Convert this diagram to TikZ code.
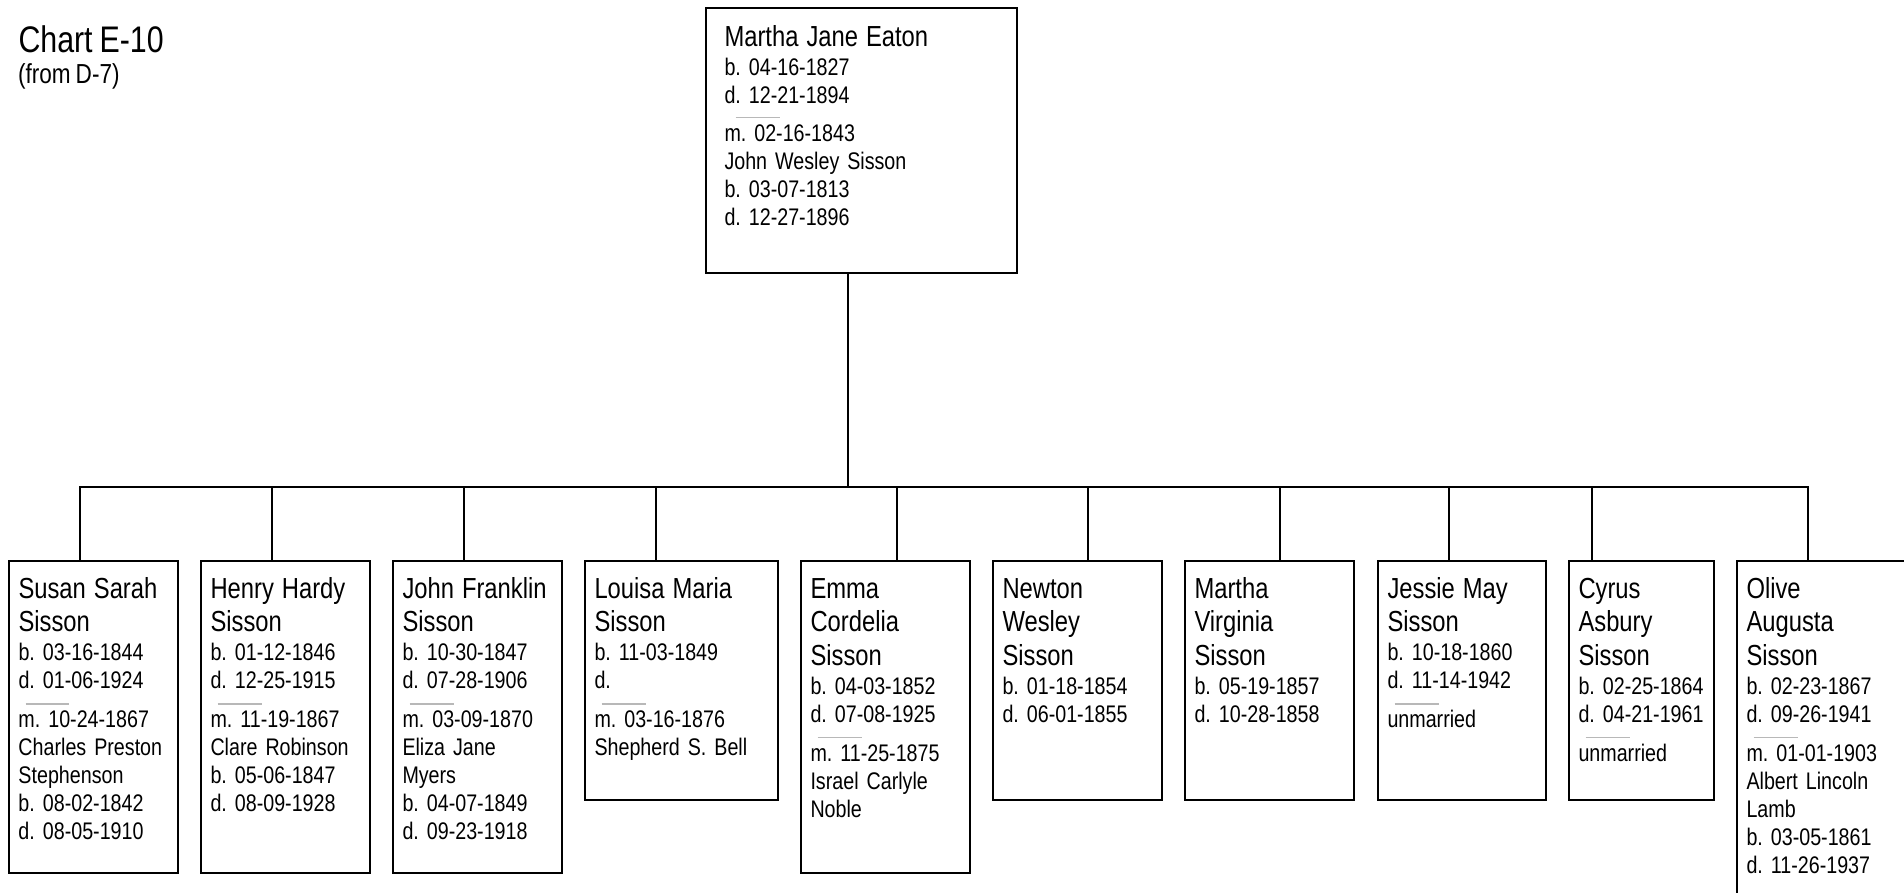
\documentclass[tikz,border=0pt]{standalone}
\usepackage{fontspec}
\setmainfont{Liberation Sans}[FakeStretch=0.82, WordSpace=0.82]
\frenchspacing
\exhyphenpenalty=10000
\hyphenpenalty=10000
\newcommand\namefont{\fontsize{29}{28}\selectfont}
\newcommand\infofont{\fontsize{24}{28}\selectfont}
\newcommand\sepbar[1][7pt]{\leavevmode\rlap{\hspace*{#1}\smash{\textcolor{black!28}{\rule[23pt]{44pt}{1.3pt}}}}}

\begin{document}
\begin{tikzpicture}[x=1pt, y=-1pt, line width=2pt,
		person/.style 2 args={draw, anchor=north west, align=left, inner xsep=9.5pt, inner ysep=0pt,
			text height=37pt, text width=#1, text depth=#2, font=\infofont}]
	\useasboundingbox (0,0) rectangle (1904,892);
	\clip (0,0) rectangle (1904,892);
	\node[anchor=base west, inner sep=0pt, font=\fontsize{37}{40}\selectfont] (chart) at (17.5,52) {Chart E-10};
	\node[anchor=base west, inner sep=0pt, font=\fontsize{27.5}{28}\selectfont] (origin) at (17,83) {(from D-7)};
	\node[person={274pt}{227pt}, inner xsep=18.5pt, text height=38pt] (eaton) at (705,7) {%
		{\namefont Martha Jane Eaton}\\[1pt]
		b. 04-16-1827\\
		d. 12-21-1894\\[10pt]
		\sepbar[11pt]m. 02-16-1843\\
		John Wesley Sisson\\
		b. 03-07-1813\\
		d. 12-27-1896};
	\node[person={150pt}{275pt}] (susan) at (8,560) {%
		{\namefont Susan Sarah\\[5.5pt]Sisson}\\[1pt]
		b. 03-16-1844\\
		d. 01-06-1924\\[11pt]
		\sepbar m. 10-24-1867\\
		Charles Preston\\
		Stephenson\\
		b. 08-02-1842\\
		d. 08-05-1910};
	\node[person={150pt}{275pt}] (henry) at (200,560) {%
		{\namefont Henry Hardy\\[5.5pt]Sisson}\\[1pt]
		b. 01-12-1846\\
		d. 12-25-1915\\[11pt]
		\sepbar m. 11-19-1867\\
		Clare Robinson\\
		b. 05-06-1847\\
		d. 08-09-1928};
	\node[person={150pt}{275pt}] (john) at (392,560) {%
		{\namefont John Franklin\\[5.5pt]Sisson}\\[1pt]
		b. 10-30-1847\\
		d. 07-28-1906\\[11pt]
		\sepbar m. 03-09-1870\\
		Eliza Jane\\
		Myers\\
		b. 04-07-1849\\
		d. 09-23-1918};
	\node[person={174pt}{202pt}] (louisa) at (584,560) {%
		{\namefont Louisa Maria\\[5.5pt]Sisson}\\[1pt]
		b. 11-03-1849\\
		d.\\[11pt]
		\sepbar m. 03-16-1876\\
		Shepherd S. Bell};
	\node[person={150pt}{275pt}] (emma) at (800,560) {%
		{\namefont Emma\\[5.5pt]Cordelia\\[5.5pt]Sisson}\\[1pt]
		b. 04-03-1852\\
		d. 07-08-1925\\[11pt]
		\sepbar m. 11-25-1875\\
		Israel Carlyle\\
		Noble};
	\node[person={150pt}{202pt}] (newton) at (992,560) {%
		{\namefont Newton\\[5.5pt]Wesley\\[5.5pt]Sisson}\\[1pt]
		b. 01-18-1854\\
		d. 06-01-1855};
	\node[person={150pt}{202pt}] (virginia) at (1184,560) {%
		{\namefont Martha\\[5.5pt]Virginia\\[5.5pt]Sisson}\\[1pt]
		b. 05-19-1857\\
		d. 10-28-1858};
	\node[person={149pt}{202pt}] (jessie) at (1377,560) {%
		{\namefont Jessie May\\[5.5pt]Sisson}\\[1pt]
		b. 10-18-1860\\
		d. 11-14-1942\\[11pt]
		\sepbar unmarried};
	\node[person={126pt}{202pt}] (cyrus) at (1568,560) {%
		{\namefont Cyrus\\[5.5pt]Asbury\\[5.5pt]Sisson}\\[1pt]
		b. 02-25-1864\\
		d. 04-21-1961\\[11pt]
		\sepbar unmarried};
	\node[person={170pt}{353pt}] (olive) at (1736,560) {%
		{\namefont Olive\\[5.5pt]Augusta\\[5.5pt]Sisson}\\[1pt]
		b. 02-23-1867\\
		d. 09-26-1941\\[11pt]
		\sepbar m. 01-01-1903\\
		Albert Lincoln\\
		Lamb\\
		b. 03-05-1861\\
		d. 11-26-1937};
	\coordinate (hub) at (848,487);
	\draw (eaton.south -| hub) -- (hub);
	\foreach \who/\x in {susan/80, henry/272, john/464, louisa/656, emma/897, newton/1088, virginia/1280, jessie/1449, cyrus/1592, olive/1808} {
		\coordinate (drop-\who) at (\x,487);
		\draw (drop-\who) -- (drop-\who |- \who.north);
	}
	\draw[line cap=rect] (drop-susan) -- (drop-olive);
\end{tikzpicture}
\end{document}
